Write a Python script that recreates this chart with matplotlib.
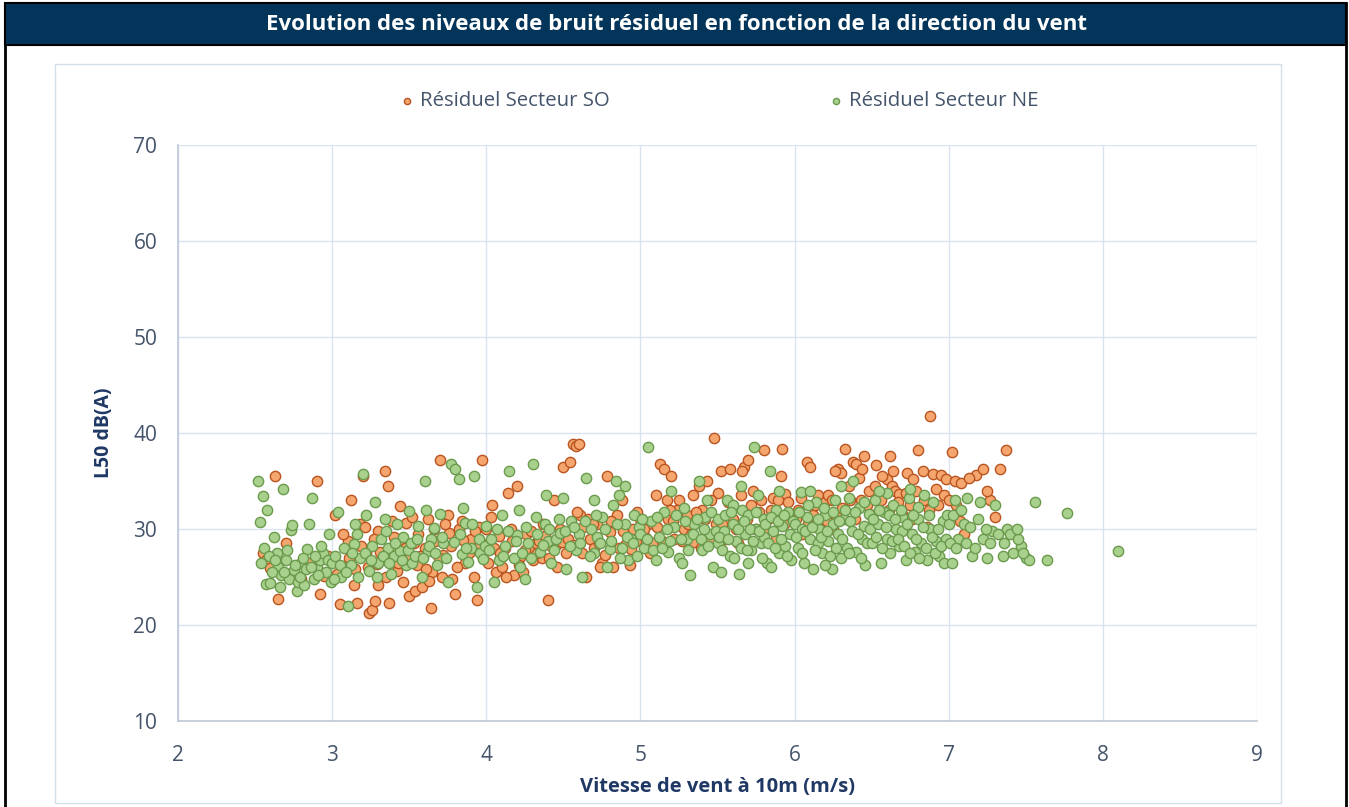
import matplotlib
matplotlib.use("Agg")
import matplotlib.pyplot as plt
from matplotlib.patches import Rectangle
from matplotlib.lines import Line2D

title = "Evolution des niveaux de bruit résiduel en fonction de la direction du vent"
xlabel = "Vitesse de vent à 10m (m/s)"
ylabel = "L50 dB(A)"
series_names = ["Résiduel Secteur SO", "Résiduel Secteur NE"]
x_ticks = [2, 3, 4, 5, 6, 7, 8, 9]
y_ticks = [10, 20, 30, 40, 50, 60, 70]

so_points = [
    (2.55,27.5),(2.57,26.8),(2.6,25.9),(2.63,35.5),(2.65,22.7),(2.7,28.5),(2.75,25.5),(2.8,24.8),
    (2.85,26.5),(2.9,35.0),(2.92,23.2),(2.95,25.1),(2.97,27.2),
    (3.02,31.5),(3.05,22.2),(3.08,26.0),(3.1,28.7),(3.12,33.0),(3.14,24.2),(3.16,22.3),(3.18,30.5),
    (3.2,35.5),(3.22,27.5),(3.24,21.3),(3.26,21.6),(3.28,22.5),(3.3,29.8),(3.3,24.2),(3.32,26.8),
    (3.34,36.0),(3.36,34.5),(3.37,22.3),(3.38,27.9),(3.4,29.2),(3.42,25.6),(3.44,32.4),(3.45,28.4),
    (3.46,24.5),(3.48,30.6),(3.5,23.0),(3.5,27.0),
    (3.03,25.3),(3.07,29.5),(3.11,27.0),(3.15,25.8),(3.19,28.2),(3.23,26.0),(3.27,29.0),(3.31,27.6),
    (3.35,25.0),(3.39,30.8),(3.43,26.5),(3.47,28.0),(3.21,30.2),(3.29,26.4),
    (3.52,31.2),(3.54,23.5),(3.55,26.2),(3.56,29.5),(3.58,24.0),(3.6,28.0),(3.62,31.0),(3.64,21.8),
    (3.65,25.5),(3.67,28.8),(3.7,37.2),(3.72,27.3),(3.75,31.5),(3.76,29.6),(3.78,24.8),(3.8,23.2),
    (3.82,30.0),(3.84,30.8),(3.86,26.5),(3.88,28.3),(3.9,29.0),(3.92,25.0),(3.94,22.6),(3.95,30.2),
    (3.97,37.2),(3.98,27.0),
    (3.53,28.5),(3.57,27.2),(3.61,25.8),(3.66,30.0),(3.69,27.0),(3.73,30.5),(3.77,28.2),(3.81,26.0),
    (3.85,28.9),(3.89,27.5),(3.93,29.8),(3.96,28.4),(3.63,24.6),(3.71,25.0),
    (4.0,30.0),(4.02,28.5),(4.04,32.5),(4.06,25.5),(4.08,29.3),(4.1,26.0),(4.12,28.0),(4.14,33.8),
    (4.16,30.0),(4.18,25.2),(4.2,34.5),(4.22,27.1),(4.24,25.5),(4.26,29.5),(4.28,28.0),(4.3,26.8),
    (4.32,28.5),(4.34,28.7),(4.36,27.0),(4.38,29.3),(4.4,22.6),(4.42,28.2),(4.44,33.0),(4.46,26.0),
    (4.48,30.0),(4.5,36.5),
    (4.01,26.5),(4.05,28.0),(4.09,27.5),(4.13,25.0),(4.17,28.8),(4.21,26.2),(4.25,27.8),(4.29,29.8),
    (4.33,27.5),(4.37,30.5),(4.41,27.0),(4.45,28.3),(4.49,28.6),(4.03,31.3),
    (4.52,27.5),(4.54,37.0),(4.56,38.9),(4.58,38.6),(4.6,38.9),(4.61,31.5),(4.63,30.2),(4.65,25.0),
    (4.67,29.0),(4.7,28.0),(4.72,30.5),(4.75,26.5),(4.78,35.5),(4.8,29.7),(4.82,26.0),(4.85,31.5),
    (4.88,33.0),(4.9,28.3),(4.93,26.2),(4.95,30.0),(4.98,31.8),
    (4.53,29.0),(4.57,28.3),(4.62,27.5),(4.66,31.0),(4.69,30.5),(4.73,28.5),(4.77,27.3),(4.81,30.8),
    (4.86,28.0),(4.89,29.8),(4.94,27.9),(4.97,28.8),(4.59,31.8),(4.74,26.0),
    (5.0,31.0),(5.03,29.2),(5.05,30.5),(5.08,28.5),(5.1,33.5),(5.13,36.8),(5.15,36.3),(5.18,31.0),
    (5.2,35.5),(5.22,29.0),(5.25,33.0),(5.28,30.0),(5.3,31.5),(5.33,29.5),(5.35,28.6),(5.38,34.5),
    (5.4,32.0),(5.43,35.0),(5.45,29.0),(5.48,39.5),(5.5,33.8),
    (5.02,30.0),(5.06,27.5),(5.11,30.2),(5.14,28.8),(5.17,33.0),(5.21,30.8),(5.24,32.0),(5.27,28.8),
    (5.31,30.5),(5.36,31.8),(5.39,28.0),(5.42,31.0),(5.46,33.0),(5.49,30.5),(5.19,32.0),(5.34,33.5),
    (5.52,36.0),(5.55,29.0),(5.58,36.2),(5.6,31.0),(5.63,28.5),(5.67,36.5),(5.7,37.2),(5.72,32.5),
    (5.75,30.0),(5.78,33.0),(5.8,38.2),(5.83,31.0),(5.86,33.2),(5.88,29.0),(5.92,38.3),(5.94,33.6),
    (5.97,31.5),
    (5.53,30.5),(5.57,32.8),(5.62,30.0),(5.65,33.5),(5.69,31.0),(5.73,34.0),(5.77,31.8),(5.81,30.0),
    (5.85,32.0),(5.89,33.0),(5.93,30.5),(5.96,32.8),(5.66,36.0),(5.91,35.5),
    (6.02,32.0),(6.05,29.5),(6.08,37.0),(6.1,36.5),(6.12,31.5),(6.15,33.5),(6.18,29.8),(6.2,32.8),
    (6.22,33.5),(6.25,30.0),(6.28,36.2),(6.3,35.8),(6.33,38.3),(6.36,33.0),(6.38,37.0),(6.4,36.8),
    (6.42,35.3),(6.45,37.6),(6.48,34.0),(6.5,31.5),
    (6.01,31.0),(6.04,33.2),(6.09,30.5),(6.13,32.5),(6.17,31.0),(6.21,30.8),(6.24,33.0),(6.27,31.5),
    (6.31,32.2),(6.35,34.5),(6.39,31.0),(6.43,33.0),(6.47,32.5),(6.26,36.0),(6.44,36.2),
    (6.53,36.7),(6.56,33.0),(6.6,35.2),(6.63,34.5),(6.65,34.0),(6.68,33.6),(6.7,31.6),(6.73,35.8),
    (6.76,31.0),(6.8,38.2),(6.83,36.0),(6.86,30.2),(6.88,41.8),(6.9,35.7),(6.93,32.5),(6.95,35.6),
    (6.98,35.2),
    (6.52,34.5),(6.57,35.5),(6.61,32.0),(6.64,36.0),(6.67,32.8),(6.72,33.8),(6.75,32.5),(6.79,34.0),
    (6.84,33.0),(6.87,32.0),(6.92,34.2),(6.97,33.5),(6.62,37.6),(6.77,35.2),
    (7.02,38.0),(7.04,35.0),(7.08,34.8),(7.18,35.6),(7.22,36.2),(7.27,33.0),(7.3,31.2),(7.33,36.2),
    (7.37,38.2),(7.05,32.5),(7.1,29.5),(7.0,33.0),(7.07,30.8),(7.13,35.3),(7.25,34.0),
]

ne_points = [
    (2.52,35.0),(2.53,30.7),(2.55,33.4),(2.56,28.0),(2.57,24.3),(2.58,32.0),(2.6,24.4),(2.62,29.2),
    (2.64,27.5),(2.65,26.0),(2.67,25.2),(2.68,34.2),(2.7,26.8),(2.72,24.8),(2.73,29.9),(2.74,30.4),
    (2.75,25.7),(2.77,23.5),(2.78,24.5),(2.8,26.5),(2.82,24.2),(2.84,27.9),(2.85,30.5),(2.87,33.2),
    (2.88,24.8),(2.9,26.0),(2.92,26.8),(2.94,27.5),(2.96,25.5),(2.98,29.5),
    (2.54,26.5),(2.59,27.2),(2.61,25.5),(2.63,26.8),(2.66,24.0),(2.69,25.5),(2.71,27.8),(2.76,26.2),
    (2.79,25.0),(2.81,27.0),(2.83,25.8),(2.86,26.0),(2.89,27.2),(2.91,25.2),(2.93,28.2),(2.97,26.8),
    (2.99,24.5),
    (3.0,26.5),(3.02,27.2),(3.04,31.8),(3.06,25.0),(3.08,28.0),(3.1,22.0),(3.12,26.2),(3.14,28.4),
    (3.16,29.5),(3.18,27.0),(3.2,35.7),(3.22,31.5),(3.24,25.6),(3.26,28.2),(3.28,32.8),(3.3,26.5),
    (3.32,29.0),(3.34,31.0),(3.36,28.0),(3.38,25.3),(3.4,27.2),(3.42,30.5),(3.44,27.7),(3.46,29.2),
    (3.48,26.2),(3.5,31.9),
    (3.01,24.8),(3.05,26.2),(3.09,25.5),(3.13,27.5),(3.17,25.0),(3.21,27.5),(3.25,26.8),(3.29,25.0),
    (3.33,27.2),(3.37,26.5),(3.41,28.5),(3.45,26.8),(3.49,27.8),(3.15,30.5),(3.35,29.8),
    (3.52,26.5),(3.54,27.2),(3.56,30.3),(3.58,25.0),(3.6,35.0),(3.62,27.7),(3.64,29.0),(3.66,30.1),
    (3.68,26.3),(3.7,31.6),(3.72,28.5),(3.75,24.5),(3.77,36.8),(3.8,36.2),(3.82,35.2),(3.84,27.4),
    (3.86,30.6),(3.88,26.6),(3.9,28.0),(3.92,35.5),(3.94,24.0),(3.96,27.5),(3.98,26.9),
    (3.51,28.5),(3.55,29.0),(3.59,27.0),(3.63,28.2),(3.67,27.5),(3.71,29.2),(3.74,27.0),(3.79,28.6),
    (3.83,29.5),(3.87,28.0),(3.91,30.5),(3.95,29.0),(3.99,28.2),(3.61,32.0),(3.85,32.2),
    (4.0,30.3),(4.02,27.8),(4.05,24.5),(4.08,26.8),(4.1,31.5),(4.12,28.2),(4.15,36.0),(4.18,27.0),
    (4.2,29.4),(4.22,26.0),(4.25,24.8),(4.27,28.5),(4.3,36.8),(4.32,31.3),(4.35,27.6),(4.38,30.5),
    (4.4,28.8),(4.42,26.5),(4.45,29.0),(4.47,31.0),(4.5,33.2),
    (4.03,29.0),(4.07,30.0),(4.11,27.2),(4.14,29.8),(4.19,28.8),(4.23,27.5),(4.26,30.2),(4.29,27.0),
    (4.33,29.5),(4.37,28.3),(4.41,30.0),(4.44,27.8),(4.48,29.6),(4.21,32.0),(4.39,33.5),
    (4.52,25.8),(4.55,30.8),(4.58,27.8),(4.6,29.5),(4.62,25.0),(4.65,35.3),(4.68,30.0),(4.7,27.5),
    (4.72,29.2),(4.75,31.2),(4.78,26.0),(4.8,27.9),(4.82,32.5),(4.84,35.0),(4.86,33.5),(4.88,28.0),
    (4.9,30.5),(4.92,26.8),(4.94,29.0),(4.96,31.5),(4.98,27.2),
    (4.51,29.8),(4.54,28.2),(4.57,30.2),(4.61,28.5),(4.64,30.8),(4.67,27.2),(4.71,31.5),(4.74,28.5),
    (4.77,30.0),(4.81,28.8),(4.85,30.5),(4.87,27.0),(4.91,29.2),(4.95,28.5),(4.99,30.2),(4.7,33.0),
    (4.9,34.5),
    (5.0,29.5),(5.02,28.0),(5.05,38.5),(5.07,30.8),(5.1,26.8),(5.12,29.2),(5.15,31.8),(5.18,27.6),
    (5.2,34.0),(5.22,30.2),(5.25,27.0),(5.28,32.2),(5.3,29.0),(5.32,25.2),(5.35,30.5),(5.38,35.0),
    (5.4,27.8),(5.42,31.3),(5.45,29.5),(5.47,26.0),(5.5,28.5),
    (5.01,31.0),(5.04,29.0),(5.08,27.8),(5.11,31.2),(5.14,28.0),(5.17,30.0),(5.19,28.8),(5.23,31.5),
    (5.26,29.0),(5.29,30.8),(5.31,27.8),(5.34,29.5),(5.37,31.0),(5.39,29.0),(5.41,30.0),(5.44,28.2),
    (5.46,31.8),(5.49,29.8),(5.27,26.5),(5.43,33.0),
    (5.5,31.0),(5.52,25.5),(5.54,29.8),(5.56,33.0),(5.58,27.2),(5.6,30.5),(5.62,28.8),(5.64,25.3),
    (5.66,32.0),(5.68,29.5),(5.7,31.5),(5.72,27.8),(5.74,38.5),(5.75,30.0),(5.76,33.5),(5.78,28.5),
    (5.8,31.0),(5.82,26.5),(5.84,36.0),(5.86,29.8),(5.88,32.0),(5.9,27.5),(5.92,30.3),(5.94,28.2),
    (5.96,31.8),(5.98,26.8),(5.6,32.5),(5.7,26.5),(5.8,29.2),(5.9,34.0),
    (5.51,29.2),(5.53,27.8),(5.55,31.5),(5.57,29.0),(5.59,31.8),(5.61,27.0),(5.63,30.0),(5.65,28.0),
    (5.67,30.8),(5.69,27.8),(5.71,30.0),(5.73,28.8),(5.75,31.8),(5.77,29.8),(5.79,27.0),(5.81,30.5),
    (5.83,28.5),(5.85,31.2),(5.87,28.0),(5.89,30.8),(5.91,29.0),(5.93,31.5),(5.95,27.2),(5.97,29.5),
    (5.99,30.8),(5.65,34.5),(5.85,26.0),
    (6.0,30.5),(6.02,28.0),(6.04,33.9),(6.06,26.5),(6.08,31.2),(6.1,29.0),(6.12,25.8),(6.14,32.8),
    (6.16,30.0),(6.18,27.5),(6.2,31.5),(6.22,28.8),(6.24,25.8),(6.26,33.0),(6.28,29.5),(6.3,27.0),
    (6.32,31.0),(6.34,28.0),(6.36,30.8),(6.38,35.0),(6.4,27.6),(6.42,32.2),(6.44,29.0),(6.46,26.2),
    (6.48,31.6),(6.05,30.0),(6.15,28.5),(6.25,30.5),(6.35,33.2),(6.45,30.3),
    (6.01,29.2),(6.03,31.8),(6.05,27.5),(6.07,29.8),(6.09,32.5),(6.11,30.2),(6.13,27.8),(6.15,31.0),
    (6.17,29.2),(6.19,32.2),(6.21,29.8),(6.23,27.2),(6.25,31.8),(6.27,28.0),(6.29,30.8),(6.31,29.0),
    (6.33,32.0),(6.35,27.5),(6.37,29.8),(6.39,31.8),(6.41,29.5),(6.43,27.0),(6.45,32.8),(6.47,28.5),
    (6.49,30.0),(6.1,34.0),(6.3,34.5),(6.2,26.2),
    (6.5,28.5),(6.52,33.0),(6.54,30.5),(6.56,26.5),(6.58,31.8),(6.6,29.0),(6.62,27.5),(6.64,32.5),
    (6.66,30.0),(6.68,28.2),(6.7,31.2),(6.72,26.8),(6.74,33.2),(6.76,29.5),(6.78,27.6),(6.8,31.0),
    (6.82,28.5),(6.84,33.5),(6.86,26.8),(6.88,30.0),(6.9,32.8),(6.92,28.8),(6.94,27.2),(6.96,30.8),
    (6.98,29.0),(6.6,33.8),(6.7,29.8),(6.8,32.3),
    (6.51,31.0),(6.53,29.2),(6.55,32.0),(6.57,28.0),(6.59,30.2),(6.61,31.5),(6.63,28.8),(6.65,31.0),
    (6.67,29.0),(6.69,32.0),(6.71,28.2),(6.73,30.5),(6.75,27.5),(6.77,31.5),(6.79,29.0),(6.81,27.0),
    (6.83,30.2),(6.85,28.0),(6.87,31.5),(6.89,29.2),(6.91,27.5),(6.93,30.0),(6.95,28.2),(6.97,26.5),
    (6.99,31.5),(6.55,34.0),(6.75,34.2),
    (7.0,30.5),(7.02,26.5),(7.04,33.0),(7.06,29.0),(7.1,30.5),(7.15,27.2),(7.2,32.8),(7.25,27.0),
    (7.28,29.8),(7.3,32.5),(7.35,27.2),(7.38,30.0),(7.4,29.5),(7.42,27.5),(7.47,28.2),(7.5,27.0),
    (7.52,26.8),(7.56,32.8),(7.64,26.8),(7.77,31.7),(8.1,27.7),(7.12,33.2),(7.22,29.0),(7.45,29.0),
    (7.01,28.5),(7.03,31.5),(7.05,28.0),(7.08,32.0),(7.11,28.5),(7.14,30.2),(7.17,28.0),(7.19,31.0),
    (7.24,30.0),(7.27,28.5),(7.32,29.5),(7.36,28.5),(7.44,30.0),(7.48,27.5),
]

so_x = [p[0] for p in so_points]
so_y = [p[1] for p in so_points]
ne_x = [p[0] for p in ne_points]
ne_y = [p[1] for p in ne_points]

W, H = 1349, 807
fig = plt.figure(figsize=(W / 100, H / 100), dpi=100)
fig.patch.set_facecolor("white")

def fx(px):
    return px / W

def fy(py):
    return 1 - py / H

# outer black frame
fig.add_artist(Line2D([fx(5), fx(5)], [fy(3), fy(807)], color="black", lw=2,
                      transform=fig.transFigure, zorder=-5))
fig.add_artist(Line2D([fx(1346), fx(1346)], [fy(3), fy(807)], color="black", lw=2,
                      transform=fig.transFigure, zorder=-5))
# title bar
fig.add_artist(Rectangle((fx(5), fy(45)), fx(1341), 42 / H, transform=fig.transFigure,
                         facecolor="#03355A", edgecolor="black", lw=1.5, zorder=-5))
fig.text(fx(677), fy(25), title, color="white", fontsize=16, fontweight="bold",
         family="Open Sans", ha="center", va="center")
# inner chart frame
fig.add_artist(Rectangle((fx(55), fy(803)), fx(1226), 739 / H, transform=fig.transFigure,
                         facecolor="white", edgecolor="#D6DEEA", lw=1, zorder=-5))

ax = fig.add_axes([fx(178), fy(721), fx(1257 - 178), (721 - 145) / H])
ax.patch.set_alpha(0)
ax.set_xlim(2, 9)
ax.set_ylim(10, 70)
ax.set_xticks(x_ticks)
ax.set_yticks(y_ticks)
ax.grid(True, color="#DAE3F1", lw=1)
ax.set_axisbelow(True)
for s in ["top", "right"]:
    ax.spines[s].set_visible(False)
for s in ["left", "bottom"]:
    ax.spines[s].set_color("#BFC8D6")
    ax.spines[s].set_linewidth(1.2)
ax.tick_params(length=0, labelsize=15, labelcolor="#44546A")
ax.tick_params(axis="y", pad=15)
ax.tick_params(axis="x", pad=17)
for lab in ax.get_xticklabels() + ax.get_yticklabels():
    lab.set_family("Open Sans")

ax.scatter(so_x, so_y, s=55, facecolor="#F5A66E", edgecolor="#B95420", lw=1.0, zorder=3,
           label=series_names[0])
ax.scatter(ne_x, ne_y, s=55, facecolor="#A9D18E", edgecolor="#6A9A4C", lw=1.0, zorder=3,
           label=series_names[1])

ax.set_xlabel(xlabel, fontsize=14.5, fontweight="bold", color="#1F3864", family="Open Sans", labelpad=8)
ax.set_ylabel(ylabel, fontsize=14, fontweight="bold", color="#1F3864", family="Open Sans", labelpad=14)

leg = ax.legend(loc="center", bbox_to_anchor=(0.502, 1.0764), ncol=2, frameon=False,
                columnspacing=10.8, handletextpad=0.35, handlelength=0.6, markerscale=0.6,
                prop={"family": "Open Sans", "size": 14.7})
for t in leg.get_texts():
    t.set_color("#44546A")

fig.savefig("out.png", dpi=100)
